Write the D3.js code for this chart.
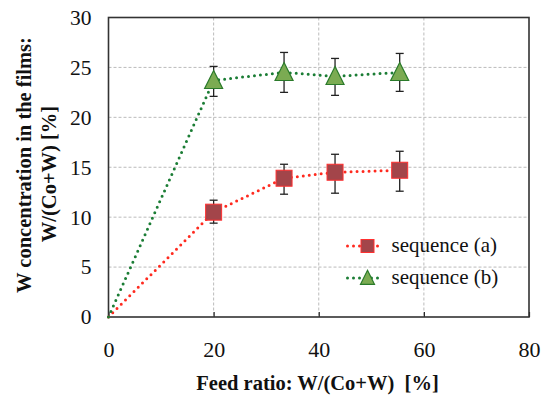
<!DOCTYPE html>
<html>
<head>
<meta charset="utf-8">
<script src="https://cdn.jsdelivr.net/npm/d3@7"></script>
<style>
  body { margin: 0; background: #fff; }
  svg text { font-family: "Liberation Serif", "Times New Roman", serif !important; }
</style>
</head>
<body>
<div id="chart"></div>
<script>
// data
const feedA = [0, 20, 33.4, 43.1, 55.4];
const concA = [0, 10.5, 13.9, 14.5, 14.7];
const errLoA = [null, 9.4, 12.3, 12.4, 12.6];
const errHiA = [null, 11.7, 15.3, 16.3, 16.6];

const feedB = [0, 20, 33.4, 43.1, 55.4];
const concB = [0, 23.7, 24.5, 24.1, 24.5];
const errLoB = [null, 22.1, 22.5, 22.2, 22.6];
const errHiB = [null, 25.1, 26.5, 25.9, 26.4];

const xTicks = [0, 20, 40, 60, 80];
const yTicks = [0, 5, 10, 15, 20, 25, 30];
const legendLabels = ["sequence (a)", "sequence (b)"];

// set the dimensions and margins
const margin = {top: 17.5, right: 21, bottom: 81, left: 108.5},
  width = 550 - margin.left - margin.right,
  height = 398 - margin.top - margin.bottom;

const svg = d3.select("#chart")
  .append("svg")
  .attr("width", 550)
  .attr("height", 398)
  .append("g")
  .attr("transform", `translate(${margin.left},${margin.top})`);

const x = d3.scaleLinear().domain([0, 80]).range([0, width]);
const y = d3.scaleLinear().domain([0, 30]).range([height, 0]);

// grid lines
svg.append("g")
  .selectAll("line")
  .data(yTicks.slice(1, -1))
  .join("line")
    .attr("x1", 0).attr("x2", width)
    .attr("y1", d => y(d)).attr("y2", d => y(d))
    .attr("stroke", "#bbb")
    .attr("stroke-dasharray", "3,2");

svg.append("g")
  .selectAll("line")
  .data(xTicks.slice(1, -1))
  .join("line")
    .attr("y1", 0).attr("y2", height)
    .attr("x1", d => x(d)).attr("x2", d => x(d))
    .attr("stroke", "#bbb")
    .attr("stroke-dasharray", "3,2");

// axes
const xAxis = svg.append("g")
  .attr("transform", `translate(0,${height})`)
  .call(d3.axisBottom(x).tickValues(xTicks).tickSize(-5).tickPadding(24));
xAxis.attr("font-size", 22);
xAxis.select(".domain").remove();
xAxis.selectAll("line").attr("stroke", "#222").attr("stroke-width", 1.2);
xAxis.selectAll("text").attr("fill", "#111").attr("dy", "0.72em");

const yAxis = svg.append("g")
  .call(d3.axisLeft(y).tickValues(yTicks).tickSize(0).tickPadding(17));
yAxis.attr("font-size", 21.5);
yAxis.select(".domain").remove();
yAxis.selectAll("text").attr("fill", "#111");

// frame
svg.append("rect")
  .attr("width", width).attr("height", height)
  .attr("fill", "none")
  .attr("stroke", "#333")
  .attr("stroke-width", 1.6);

// axis labels
svg.append("text")
  .attr("text-anchor", "middle")
  .attr("x", 317.5 - margin.left)
  .attr("y", 390 - margin.top)
  .attr("font-size", 20.5)
  .attr("font-weight", "bold")
  .attr("fill", "#111")
  .attr("xml:space", "preserve")
  .text("Feed ratio: W/(Co+W)  [%]");

svg.append("text")
  .attr("text-anchor", "middle")
  .attr("transform", "rotate(-90)")
  .attr("x", -(165 - margin.top))
  .attr("y", 31 - margin.left)
  .attr("font-size", 20.5)
  .attr("font-weight", "bold")
  .attr("fill", "#111")
  .text("W concentration in the films:");

svg.append("text")
  .attr("text-anchor", "middle")
  .attr("transform", "rotate(-90)")
  .attr("x", -(174 - margin.top))
  .attr("y", 56 - margin.left)
  .attr("font-size", 20.5)
  .attr("font-weight", "bold")
  .attr("fill", "#111")
  .text("W/(Co+W) [%]");

const series = [
  {feed: feedA, conc: concA, lo: errLoA, hi: errHiA, line: "#ff2a1f", fill: "#a3454a", stroke: "#ff3030", shape: "square"},
  {feed: feedB, conc: concB, lo: errLoB, hi: errHiB, line: "#1b7d35", fill: "#7bab52", stroke: "#2a7a2a", shape: "triangle"}
];

const line = d3.line().x(d => x(d[0])).y(d => y(d[1]));

const drawMarker = (g, shape, cx, cy, s, fill, stroke) => {
  if (shape === "square") {
    g.append("rect")
      .attr("x", cx - s / 2).attr("y", cy - s / 2)
      .attr("width", s).attr("height", s)
      .attr("fill", fill).attr("stroke", stroke).attr("stroke-width", 1);
  } else {
    const h = s;
    g.append("path")
      .attr("d", `M${cx},${cy - h * 0.55} L${cx + s / 2},${cy + h * 0.45} L${cx - s / 2},${cy + h * 0.45} Z`)
      .attr("fill", fill).attr("stroke", stroke).attr("stroke-width", 1.2);
  }
};

series.forEach(s => {
  const pts = s.feed.map((f, i) => [f, s.conc[i]]);
  svg.append("path")
    .datum(pts)
    .attr("fill", "none")
    .attr("stroke", s.line)
    .attr("stroke-width", 3)
    .attr("stroke-linecap", "round")
    .attr("stroke-dasharray", "0,6")
    .attr("d", line);
});

series.forEach(s => {
  const g = svg.append("g");
  s.feed.forEach((f, i) => {
    if (s.lo[i] === null) return;
    const cx = x(f);
    g.append("line")
      .attr("x1", cx).attr("x2", cx)
      .attr("y1", y(s.lo[i])).attr("y2", y(s.hi[i]))
      .attr("stroke", "#222").attr("stroke-width", 1.3);
    [s.lo[i], s.hi[i]].forEach(v => {
      g.append("line")
        .attr("x1", cx - 4).attr("x2", cx + 4)
        .attr("y1", y(v)).attr("y2", y(v))
        .attr("stroke", "#222").attr("stroke-width", 1.3);
    });
  });
  s.feed.forEach((f, i) => {
    if (s.lo[i] === null) return;
    drawMarker(g, s.shape, x(f), y(s.conc[i]), s.shape === "square" ? 16 : 18, s.fill, s.stroke);
  });
});

// legend
const legend = svg.append("g").attr("transform", `translate(239, 228.5)`);
series.forEach((s, i) => {
  const ly = i * 32;
  legend.append("line")
    .attr("x1", 0).attr("x2", 36)
    .attr("y1", ly).attr("y2", ly)
    .attr("stroke", s.line)
    .attr("stroke-width", 3)
    .attr("stroke-linecap", "round")
    .attr("stroke-dasharray", "0,6");
  drawMarker(legend, s.shape, 20, ly, s.shape === "square" ? 13 : 14, s.fill, s.stroke);
  legend.append("text")
    .attr("x", 44)
    .attr("y", ly + 6)
    .attr("font-size", 21)
    .attr("fill", "#111")
    .text(legendLabels[i]);
});
</script>
</body>
</html>
